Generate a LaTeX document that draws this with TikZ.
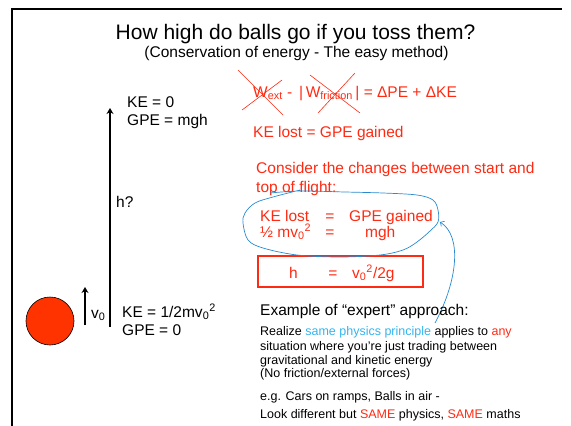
\documentclass[tikz,border=0pt]{standalone}
\usepackage{fontspec}
\setmainfont{Liberation Sans}
\usetikzlibrary{arrows.meta, positioning}
\definecolor{slidered}{HTML}{FF2A12}
\definecolor{ballred}{HTML}{FF3300}
\definecolor{skyblue}{HTML}{33B4EE}
\definecolor{penblue}{HTML}{2A8AD0}
\newcommand{\vsq}{v\textsubscript{0}\textsuperscript{2}}

\begin{document}
\begin{tikzpicture}[
    x=1pt, y=-1pt,
    txt/.style={anchor=base west, inner sep=0pt, font=\fontsize{15.5}{18}\selectfont},
    redtxt/.style={txt, text=slidered},
    headline/.style={anchor=base, inner sep=0pt, font=\fontsize{21}{24}\selectfont},
    subline/.style={anchor=base, inner sep=0pt, font=\fontsize{15.5}{18}\selectfont},
    body/.style={anchor=base west, inner sep=0pt, font=\fontsize{12.5}{14}\selectfont},
    ball/.style={circle, draw=black, fill=ballred, minimum size=48pt, inner sep=0pt, line width=0.6pt},
    eqbox/.style={draw=slidered, line width=1.3pt, minimum width=165pt, minimum height=31pt, inner sep=0pt},
    arr/.style={-{Stealth[length=6pt, width=7pt]}, line width=1.8pt},
    cross/.style={slidered, line width=0.6pt},
    pen/.style={penblue, line width=0.7pt},
]
\useasboundingbox (0,0) rectangle (571,426);

% slide frame
\draw[line width=2.2pt] (12,426) -- (12,9) -- (562,9);

% title
\node[headline] (ttl) at (295.5,39) {How high do balls go if you toss them?};
\node[subline] (sub) at (296.5,57) {(Conservation of energy - The easy method)};

% ball and heights
\node[ball] (ball) at (50,321) {};
\coordinate (h0) at (110,327);
\coordinate (h1) at (110,108);
\draw[arr] (h0) -- (h1);
\coordinate (v0) at (85,325);
\coordinate (v1) at (85,287);
\draw[arr] (v0) -- (v1);
\node[txt] (ketop) at (127,107) {KE = 0};
\node[txt] (gpetop) at (127,125) {GPE = mgh};
\node[txt] (hq) at (116,207) {h?};
\node[txt] (vlab) at (91,318) {v\textsubscript{0}};
\node[txt] (kebot) at (122,317) {KE = 1/2m\vsq};
\node[txt] (gpebot) at (122,335) {GPE = 0};

% work-energy, crossed out
\node[redtxt] (work) at (253,97) {W\textsubscript{ext} - \,|\,W\textsubscript{friction}\,| = ΔPE + ΔKE};
\draw[cross] (238,70) -- (283,115);
\draw[cross] (282,80) -- (242,110);
\draw[cross] (310,75) -- (360,113);
\draw[cross] (355,73) -- (318,113);
\node[redtxt] (kelost) at (253,137) {KE lost = GPE gained};

% changes between start and top
\node[redtxt] (cons1) at (256,173) {Consider the changes between start and};
\node[redtxt] (cons2) at (256,192) {top of flight:};
\node[redtxt] (l1a) at (260,221) {KE lost};
\node[redtxt, anchor=base] (l1b) at (330,221) {=};
\node[redtxt] (l1c) at (349,221) {GPE gained};
\node[redtxt] (l2a) at (260,237) {½ m\vsq};
\node[redtxt, anchor=base] (l2b) at (330,237) {=};
\node[redtxt] (l2c) at (365,237) {mgh};

% result box
\node[eqbox] (hbox) at (340.5,271.5) {};
\node[redtxt] (hh) at (289,278) {h};
\node[redtxt, anchor=base] (heq) at (333,278) {=};
\node[redtxt] (hv) at (352,278) {\vsq/2g};

% hand-drawn loop and arrow
\draw[pen] plot[smooth, tension=0.55] coordinates {
    (270,193) (300,191) (345,192) (383,193) (417,195) (433,200) (438,210)
    (438,222) (430,231) (417,242) (403,250) (380,255) (340,257) (297,255)
    (263,248) (248,240) (243,223) (245,213) (255,203) (273,197) (300,190)};
\coordinate (pstart) at (435,323);
\coordinate (ptip) at (440,222);
\draw[pen, -{Straight Barb[length=3pt, width=6pt]}] (pstart) .. controls (458,280) and (462,236) .. (ptip);

% expert approach
\node[txt] (expert) at (260,315) {Example of “expert” approach:};
\foreach \n/\y/\t in {
    b1/335/{Realize \textcolor{skyblue}{same physics principle} applies to \textcolor{slidered}{any}},
    b2/350/{situation where you’re just trading between},
    b3/364/{gravitational and kinetic energy},
    b4/377/{(No friction/external forces)},
    b5/400/{e.g. Cars on ramps, Balls in air -},
    b6/418/{Look different but \textcolor{slidered}{SAME} physics, \textcolor{slidered}{SAME} maths}} {
    \node[body] (\n) at (260,\y) {\t};
}

\end{tikzpicture}
\end{document}
